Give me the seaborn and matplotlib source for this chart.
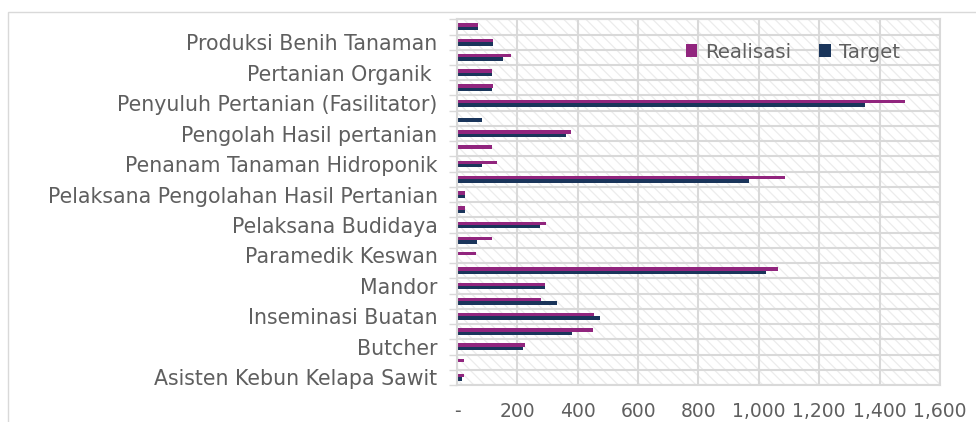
import pandas as pd
import matplotlib
matplotlib.use('Agg')
import matplotlib.pyplot as plt
import seaborn as sns
from matplotlib.patches import Rectangle
from matplotlib.ticker import FuncFormatter, MultipleLocator

# rows listed top to bottom; Excel only shows every other label
labels = ['', 'Produksi Benih Tanaman', '', 'Pertanian Organik ', '',
          'Penyuluh Pertanian (Fasilitator)', '', 'Pengolah Hasil pertanian', '',
          'Penanam Tanaman Hidroponik', '', 'Pelaksana Pengolahan Hasil Pertanian', '',
          'Pelaksana Budidaya', '', 'Paramedik Keswan', '', 'Mandor', '',
          'Inseminasi Buatan', '', 'Butcher', '', 'Asisten Kebun Kelapa Sawit']
realisasi = [70, 118, 179, 117, 120, 1483, 0, 378, 115, 131, 1087, 28,
             28, 296, 115, 62, 1064, 291, 277, 455, 450, 225, 22, 22]
target = [70, 118, 151, 117, 116, 1351, 83, 361, 0, 83, 969, 28,
          28, 276, 65, 0, 1025, 292, 333, 473, 380, 218, 0, 17]
series = ['Realisasi', 'Target']
colors = ['#A3138A', '#0F3366']

rows = list(range(len(labels)))
df = pd.DataFrame({
    'row': rows * 2,
    'value': realisasi + target,
    'series': [series[0]] * len(rows) + [series[1]] * len(rows),
})

sns.set_style('white')
plt.rcParams['font.family'] = ['DejaVu Sans']
plt.rcParams['hatch.linewidth'] = 0.9
txt = '#5f5f5f'
grid_c = '#d9d9d9'

fig = plt.figure(figsize=(9.76, 4.22), dpi=100)
ax = fig.add_axes([0.4682, 0.0877, 0.4949, 0.8666])

ax.set_facecolor('white')
ax.patch.set_hatch('\\\\\\')
ax.patch.set_edgecolor('#ececec')

sns.barplot(data=df, x='value', y='row', hue='series', orient='y',
            order=rows, hue_order=series, palette=colors,
            width=0.45, linewidth=0, ax=ax)

ax.set_xlim(0, 1600)
ax.xaxis.set_major_locator(MultipleLocator(200))
ax.xaxis.set_major_formatter(FuncFormatter(lambda v, p: '-' if v == 0 else f'{v:,.0f}'))
ax.set_yticks(rows)
ax.set_yticklabels(labels)
ax.set_yticks([r + 0.5 for r in [-1] + rows], minor=True)

ax.set_axisbelow(True)
ax.grid(axis='x', which='major', color=grid_c, lw=1.5)
ax.grid(axis='y', which='minor', color=grid_c, lw=1.5)
ax.grid(axis='y', which='major', visible=False)

ax.tick_params(axis='y', which='major', length=0, pad=14, labelsize=14.8, labelcolor=txt)
ax.tick_params(axis='y', which='minor', length=6, color=grid_c, width=1, left=True)
ax.tick_params(axis='x', length=0, pad=12, labelsize=13.5, labelcolor=txt)
ax.set_xlabel('')
ax.set_ylabel('')
for s in ax.spines.values():
    s.set_color(grid_c)
    s.set_linewidth(1.5)

handles, _ = ax.get_legend_handles_labels()
ax.legend(handles, series, loc='center', bbox_to_anchor=(0.695, 0.91), ncol=2,
          frameon=False, fontsize=14.2, labelcolor=txt, handlelength=0.6,
          handleheight=0.6, handletextpad=0.4, columnspacing=1.4)

# chart area border
fig.patches.append(Rectangle((8 / 976, -0.1), 1.1, 1 - 12 / 422 + 0.1,
                             transform=fig.transFigure, fill=False,
                             edgecolor=grid_c, lw=1))

fig.savefig('out.png', dpi=100)
